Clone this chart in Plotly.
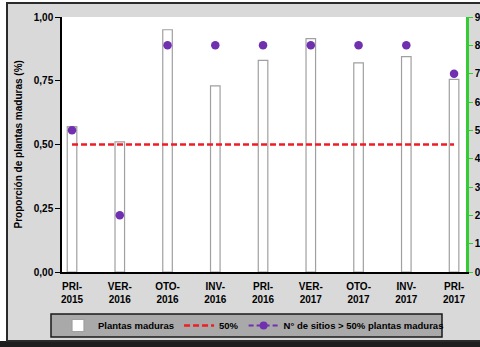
import plotly.graph_objects as go

categories = ["PRI-<br>2015", "VER-<br>2016", "OTO-<br>2016", "INV-<br>2016", "PRI-<br>2016",
              "VER-<br>2017", "OTO-<br>2017", "INV-<br>2017", "PRI-<br>2017"]
plantas_maduras = [0.57, 0.51, 0.95, 0.73, 0.83, 0.915, 0.82, 0.845, 0.755]
umbral_50 = [0.5, 0.5, 0.5, 0.5, 0.5, 0.5, 0.5, 0.5, 0.5]
n_sitios = [5, 2, 8, 8, 8, 8, 8, 8, 7]
y_ticks = [0, 0.25, 0.5, 0.75, 1.0]
y_ticklabels = ["0,00", "0,25", "0,50", "0,75", "1,00"]

W, H = 480, 347
L, R, T, B = 62, 14, 17, 75
PW, PH = W - L - R, H - T - B


def xp(px):
    return (px - L) / PW


def yp(py):
    return (H - B - py) / PH


FONT = "Liberation Sans Narrow, Liberation Sans, Arial, sans-serif"
PURPLE = "#7030B0"
GREEN = "#33CC33"

fig = go.Figure()
fig.add_trace(go.Bar(
    x=categories, y=plantas_maduras, name="Plantas maduras", width=0.2,
    marker=dict(color="white", line=dict(color="#a0a0a0", width=1.2)),
))
fig.add_trace(go.Scatter(
    x=categories, y=umbral_50, name="50%", mode="lines",
    line=dict(color="#ee1c25", width=2.5, dash="6px,3px"),
))
fig.add_trace(go.Scatter(
    x=categories, y=n_sitios, name="N° de sitios > 50% plantas maduras", mode="markers",
    marker=dict(color=PURPLE, size=8.5), yaxis="y2", showlegend=False,
))
fig.add_trace(go.Scatter(
    x=[None], y=[None], name="N° de sitios > 50% plantas maduras", mode="lines+markers",
    line=dict(color=PURPLE, width=2, dash="5px,3px"), marker=dict(color=PURPLE, size=8),
    yaxis="y2",
))

shapes = [
    # white outer margin strips
    dict(type="rect", xref="paper", yref="paper", x0=xp(-5), x1=xp(7), y0=yp(-5), y1=yp(352),
         fillcolor="white", line=dict(width=0), layer="below"),
    dict(type="rect", xref="paper", yref="paper", x0=xp(-5), x1=xp(490), y0=yp(-5), y1=yp(3),
         fillcolor="white", line=dict(width=0), layer="below"),
    # dark bottom band
    dict(type="rect", xref="paper", yref="paper", x0=xp(-5), x1=xp(490), y0=yp(341), y1=yp(352),
         fillcolor="#1e1e1e", line=dict(width=0), layer="below"),
    # outer frame
    dict(type="rect", xref="paper", yref="paper", x0=xp(7), x1=xp(495), y0=yp(341), y1=yp(3),
         fillcolor="rgba(0,0,0,0)", line=dict(color="#2a2a2a", width=2), layer="below"),
    # legend box
    dict(type="rect", xref="paper", yref="paper", x0=xp(51), x1=xp(442), y0=yp(337), y1=yp(314),
         fillcolor="#a9a9a9", line=dict(color="#1a1a1a", width=1.5), layer="below"),
]

fig.update_layout(
    width=W, height=H,
    margin=dict(l=L, r=R, t=T, b=B, autoexpand=False),
    paper_bgcolor="#d9d9d9", plot_bgcolor="white",
    font=dict(family=FONT, size=10, color="black"),
    showlegend=True,
    legend=dict(orientation="h", x=xp(58), y=yp(325.5), xanchor="left", yanchor="middle",
                bgcolor="rgba(0,0,0,0)", font=dict(family=FONT, size=9.5, weight="bold"),
                traceorder="normal", itemwidth=30),
    xaxis=dict(
        type="category", range=[-0.21, 8.25], showgrid=False,
        showline=True, linecolor="black", linewidth=1.5, ticks="",
        tickfont=dict(family=FONT, size=10, weight="bold"), ticklabelstandoff=4,
        fixedrange=True,
    ),
    yaxis=dict(
        range=[0, 1], tickvals=y_ticks, ticktext=y_ticklabels, showgrid=False, zeroline=False,
        showline=True, linecolor="black", linewidth=1.5, ticks="outside", ticklen=5,
        tickcolor="black", tickfont=dict(family=FONT, size=10, weight="bold"),
    ),
    yaxis2=dict(
        range=[0, 9], dtick=1, overlaying="y", side="right", showgrid=False, zeroline=False,
        showline=True, linecolor=GREEN, linewidth=2.5, ticks="outside", ticklen=4,
        tickcolor=GREEN, tickfont=dict(family=FONT, size=10, weight="bold", color="black"),
    ),
    shapes=shapes,
    annotations=[dict(
        text="<b>Proporción de plantas maduras (%)</b>", xref="paper", yref="paper",
        x=xp(18), y=0.5, textangle=-90, showarrow=False, xanchor="center", yanchor="middle",
        font=dict(family=FONT, size=10, color="black"),
    )],
)

fig.write_html("out.html", config={"displayModeBar": False},
               post_script="document.body.style.margin='0px';")
